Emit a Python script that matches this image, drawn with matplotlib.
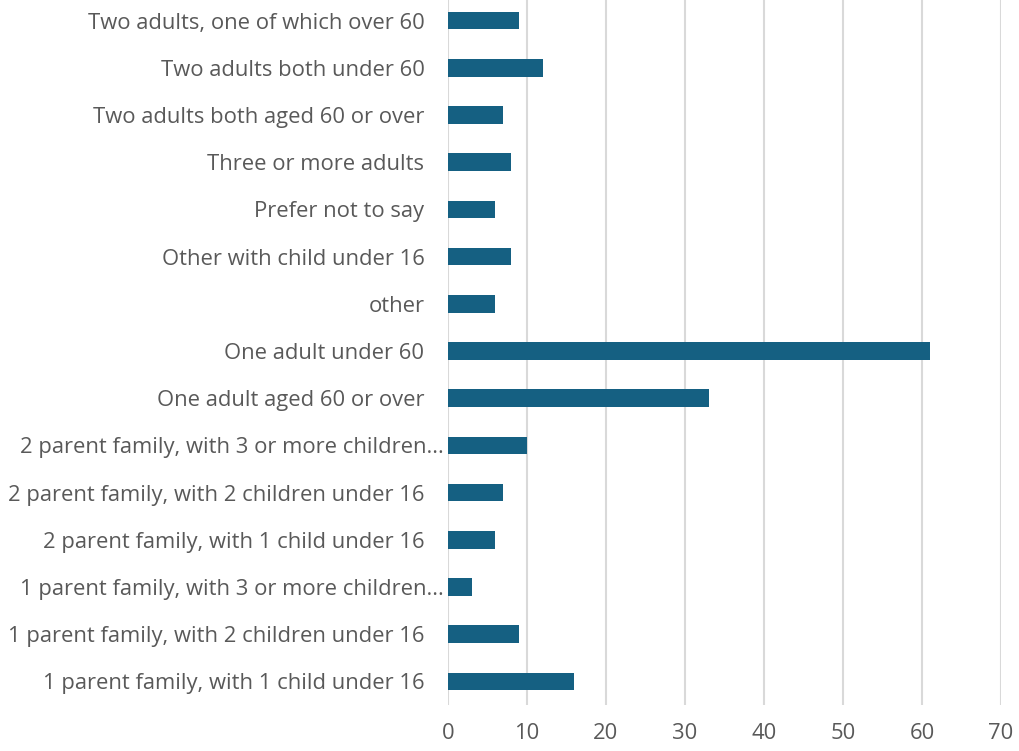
import matplotlib.pyplot as plt
import matplotlib.transforms as mtransforms

# household types, listed bottom to top
categories = [
    "1 parent family, with 1 child under 16",
    "1 parent family, with 2 children under 16",
    "1 parent family, with 3 or more children...",
    "2 parent family, with 1 child under 16",
    "2 parent family, with 2 children under 16",
    "2 parent family, with 3 or more children...",
    "One adult aged 60 or over",
    "One adult under 60",
    "other",
    "Other with child under 16",
    "Prefer not to say",
    "Three or more adults",
    "Two adults both aged 60 or over",
    "Two adults both under 60",
    "Two adults, one of which over 60",
]
counts = [16, 9, 3, 6, 7, 10, 33, 61, 6, 8, 6, 8, 7, 12, 9]
x_ticks = [0, 10, 20, 30, 40, 50, 60, 70]

plt.rcParams['font.family'] = ['Open Sans', 'DejaVu Sans']
text_col = '#595959'

fig = plt.figure(figsize=(10.2, 7.51), dpi=100)
ax = fig.add_axes([448 / 1020, 1 - 705 / 751, 553 / 1020, 708 / 751])

ypos = list(range(len(categories)))
ax.barh(ypos, counts, height=0.37, color='#156082', zorder=3)

ax.set_xlim(0, 70)
ax.set_ylim(-0.5, len(categories) - 0.5)
ax.set_xticks(x_ticks)
ax.set_yticks(ypos)
ax.set_yticklabels(categories)
ax.xaxis.grid(True, color='#d9d9d9', linewidth=1.5, zorder=0)

for s in ax.spines.values():
    s.set_visible(False)
ax.tick_params(axis='both', length=0, labelsize=15.8, colors=text_col)
ax.tick_params(axis='y', pad=17)
ax.tick_params(axis='x', pad=13)

# truncated labels sit closer to the axis
shift = mtransforms.ScaledTranslation(19 / 100, 0, fig.dpi_scale_trans)
for lab in ax.get_yticklabels():
    if lab.get_text().endswith('...'):
        lab.set_transform(lab.get_transform() + shift)

fig.savefig('out.png', dpi=100)
